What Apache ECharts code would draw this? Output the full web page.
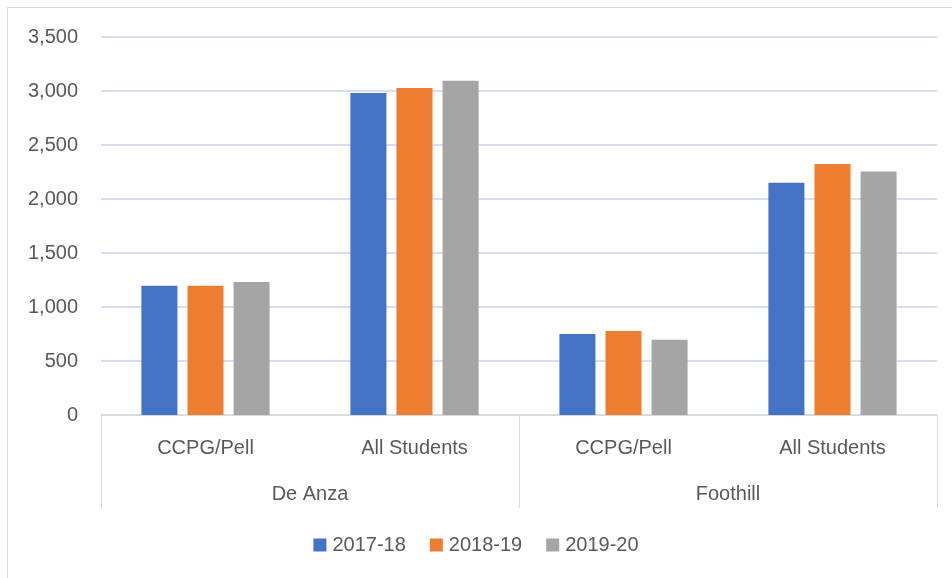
<!DOCTYPE html>
<html>
<head>
<meta charset="utf-8">
<script src="https://cdn.jsdelivr.net/npm/echarts@6/dist/echarts.min.js"></script>
<style>
html, body { margin: 0; padding: 0; background: #fff; }
#chart { width: 952px; height: 578px; }
</style>
</head>
<body>
<div id="chart"></div>
<script>
// categories: sub level + college level
var subCategories = ['CCPG/Pell', 'All Students', 'CCPG/Pell', 'All Students'];
var colleges = ['De Anza', 'Foothill'];
var years = ['2017-18', '2018-19', '2019-20'];

// values per year, in order of subCategories
var y2017 = [1197, 2981, 750, 2150];
var y2018 = [1197, 3028, 777, 2325];
var y2019 = [1232, 3096, 697, 2255];

var yTicks = [0, 500, 1000, 1500, 2000, 2500, 3000, 3500];

var colors = ['#4472C4', '#ED7D31', '#A5A5A5'];
var font = '"Liberation Sans", Arial, sans-serif';
var textColor = '#595959';
var lineColor = '#d9d9d9';

var chart = echarts.init(document.getElementById('chart'));

function barSeries(name, data) {
    return {
        name: name,
        type: 'bar',
        xAxisIndex: 0,
        barWidth: 36,
        barGap: '28%',
        data: data
    };
}

chart.setOption({
    animation: false,
    color: colors,
    textStyle: { fontFamily: font },
    graphic: [{
        // chart area frame (only left/top visible in the picture)
        type: 'rect',
        shape: { x: 7.5, y: 7.5, width: 1000, height: 1000 },
        style: { fill: 'none', stroke: lineColor, lineWidth: 1 },
        silent: true
    }],
    grid: {
        left: 101,
        right: 15,
        top: 37,
        bottom: 163,
        containLabel: false
    },
    legend: {
        data: years,
        bottom: 18,
        left: 'center',
        itemWidth: 13,
        itemHeight: 13,
        itemGap: 24,
        icon: 'rect',
        textStyle: { fontSize: 20, color: textColor, fontFamily: font, padding: [0, 0, 0, 1] }
    },
    xAxis: [
        {
            type: 'category',
            data: subCategories,
            position: 'bottom',
            axisLine: { show: true, lineStyle: { color: lineColor, width: 1 } },
            axisTick: { show: false },
            axisLabel: { margin: 23, fontSize: 20, color: textColor, fontFamily: font, interval: 0 },
            splitLine: { show: false }
        },
        {
            type: 'category',
            data: colleges,
            position: 'bottom',
            axisLine: { show: false },
            axisTick: { show: true, length: 93, interval: 0, lineStyle: { color: lineColor, width: 1 } },
            axisLabel: { margin: 69, fontSize: 20, color: textColor, fontFamily: font, interval: 0 },
            splitLine: { show: false }
        }
    ],
    yAxis: {
        type: 'value',
        min: yTicks[0],
        max: yTicks[yTicks.length - 1],
        interval: 500,
        axisLine: { show: false },
        axisTick: { show: false },
        axisLabel: {
            margin: 23,
            fontSize: 20,
            color: textColor,
            fontFamily: font,
            formatter: function (v) { return v.toLocaleString('en-US'); }
        },
        splitLine: { lineStyle: { color: '#c9d5ec', width: 1.5 } }
    },
    series: [
        barSeries(years[0], y2017),
        barSeries(years[1], y2018),
        barSeries(years[2], y2019)
    ]
});
</script>
</body>
</html>
